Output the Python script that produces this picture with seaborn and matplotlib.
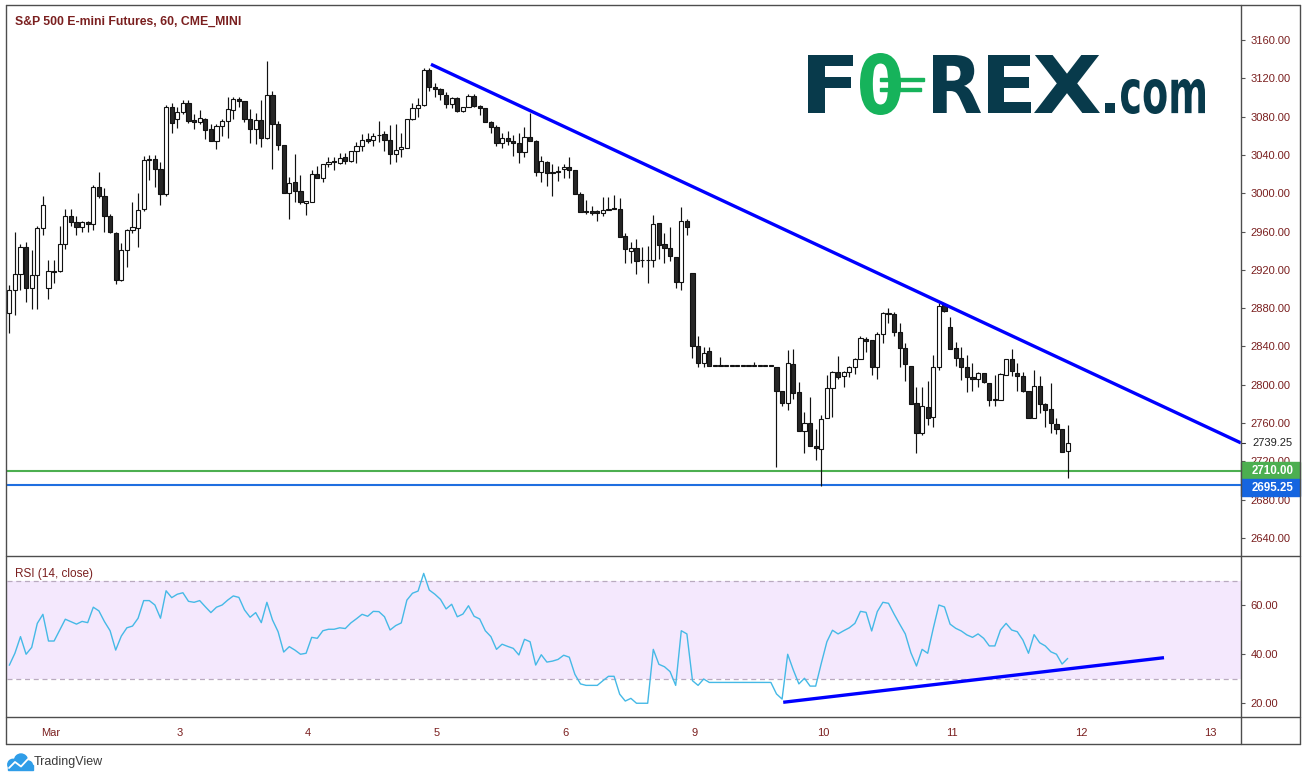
import numpy as np
import pandas as pd
import matplotlib
matplotlib.use('Agg')
import matplotlib.pyplot as plt
import matplotlib.transforms as mtransforms
import seaborn as sns
from matplotlib.patches import Rectangle, Circle, PathPatch
from matplotlib.lines import Line2D
from matplotlib.textpath import TextPath
from matplotlib.font_manager import FontProperties

# ============================
# 数据: ES 1小时K线 (Mar 1 - Mar 11)
# ============================
opens = [
    2875, 2899, 2916, 2944, 2901, 2915, 2964, 2901, 2919, 2919,
    2947, 2976, 2970, 2965, 2970, 2968, 3006, 2997, 2976, 2958,
    2909, 2941, 2962, 2964, 2984, 3035, 3036, 3025, 2999, 3090,
    3078, 3085, 3094, 3076, 3074, 3078, 3067, 3055, 3070, 3075,
    3087, 3098, 3096, 3077, 3067, 3076, 3058, 3103, 3072, 3050,
    3000, 3012, 3002, 2990, 2991, 3020, 3016, 3031, 3033.5, 3032,
    3037.5, 3034, 3044, 3049, 3056.5, 3055.5, 3060.5, 3061.5, 3056, 3040.5,
    3046, 3047.5, 3078, 3088.5, 3092, 3128.5, 3110.5, 3109, 3103, 3093,
    3099, 3086, 3090, 3101.5, 3091.5, 3088.5, 3074.5, 3069, 3052, 3057.5,
    3055, 3052, 3043.5, 3058.5, 3055, 3022.5, 3032.5, 3022, 3023, 3025,
    3027, 3024.5, 2999, 2981.5, 2981, 2981, 2979, 2982.5, 2984.5, 2984,
    2955.5, 2940, 2942.5, 2930.5, 2930, 2930, 2968.5, 2947, 2942.5, 2933,
    2907, 2971, 2916.5, 2840.5, 2822.5, 2835, 2820, 2820, 2820, 2820,
    2820, 2820, 2820, 2820, 2820, 2820, 2820, 2819, 2793.5, 2781,
    2821.5, 2792, 2752, 2760, 2736, 2733, 2765, 2796.5, 2813.5, 2809,
    2813, 2819, 2826.5, 2847.5, 2846.5, 2818.5, 2853.5, 2874.5, 2874, 2855.5,
    2838, 2820, 2780.5, 2749.5, 2777, 2766, 2819, 2883.5, 2860, 2838,
    2827.5, 2818.5, 2808, 2806, 2812, 2801.5, 2784.5, 2784.5, 2810.5, 2826.5,
    2812.5, 2809, 2793.5, 2765.5, 2799, 2779.5, 2774.5, 2759, 2753.5, 2731,
]
highs = [
    2904, 2960, 2947, 2949, 2941, 2966, 2997, 2930, 2930, 2966,
    2984, 2984, 2976, 2971, 2971, 3009, 3022, 3005, 2978, 2960,
    2948, 2963, 2991, 3000, 3039, 3040, 3040, 3033, 3092, 3094,
    3090, 3097, 3097, 3083, 3087, 3079, 3072, 3072, 3078, 3101,
    3101, 3101, 3096, 3088, 3084, 3097, 3138, 3107, 3075, 3050,
    3017, 3041, 3019, 2992, 3024, 3028, 3031, 3038, 3038, 3042,
    3042, 3044, 3053, 3062, 3062.5, 3062.5, 3075, 3065, 3071, 3072,
    3062.5, 3078, 3094.5, 3099, 3130.5, 3130.5, 3115, 3109.5, 3105.5, 3100,
    3100, 3090.5, 3104, 3104, 3092, 3088.5, 3075.5, 3071, 3063, 3065,
    3061, 3063, 3069, 3084, 3055.5, 3039, 3033.5, 3030, 3028.5, 3031,
    3037.5, 3024.5, 3001, 2993, 2987, 2983, 2996, 2996.5, 2998, 2994.5,
    2958, 2949.5, 2952, 2944, 2945, 2977.5, 2968.5, 2958, 2965, 2933,
    2986, 2973, 2916.5, 2851, 2839, 2839, 2820, 2828.5, 2820, 2820,
    2820, 2820, 2820, 2823.5, 2820, 2820, 2820, 2819, 2793.5, 2836.5,
    2837, 2803, 2771.5, 2787.5, 2754, 2768.5, 2810, 2814.5, 2830.5, 2814,
    2819.5, 2827.5, 2850.5, 2849.5, 2846.5, 2855, 2876.5, 2880, 2875.5, 2864,
    2843.5, 2820, 2797.5, 2797.5, 2803.5, 2831, 2885, 2885, 2871, 2845,
    2839, 2831, 2823, 2813.5, 2812.5, 2801.5, 2810, 2812, 2826.5, 2837,
    2823, 2813.5, 2793.5, 2815.5, 2809.5, 2780.5, 2801.5, 2765, 2753.5, 2758,
]
lows = [
    2854, 2873, 2899, 2886, 2879, 2879, 2956, 2890, 2906, 2918,
    2942, 2966, 2956, 2960, 2959, 2962, 2995, 2960, 2958, 2905,
    2908, 2923, 2958, 2944, 2981, 3014, 3007, 2988, 2997, 3063,
    3068, 3083, 3073, 3067, 3072, 3057, 3055, 3046, 3060, 3058,
    3078, 3090, 3074, 3052, 3051, 3048, 3057, 3025, 3045, 3000,
    2973, 2991, 2989, 2977, 2991, 3016, 3012, 3027, 3024, 3030,
    3030.5, 3033, 3032, 3044, 3052, 3049, 3054, 3044.5, 3031, 3033,
    3038, 3047.5, 3076, 3080, 3091, 3107, 3101, 3097, 3088.5, 3088.5,
    3085, 3085, 3090, 3090.5, 3081.5, 3074, 3063, 3049, 3047, 3050.5,
    3039, 3032, 3038, 3055, 3018.5, 3012, 3007.5, 2997.5, 3013, 3016,
    3015.5, 2999, 2980, 2978, 2977.5, 2971, 2976, 2982.5, 2983.5, 2954.5,
    2927, 2927, 2915.5, 2922.5, 2906.5, 2922.5, 2931, 2927, 2929.5, 2901,
    2899, 2956.5, 2827.5, 2819, 2819, 2820, 2820, 2820, 2820, 2820,
    2820, 2820, 2820, 2820, 2820, 2820, 2820, 2714.5, 2778, 2774,
    2785, 2752, 2728.5, 2736.5, 2721, 2694.5, 2765, 2766.5, 2806, 2797.5,
    2808, 2811, 2826.5, 2834.5, 2810, 2806, 2844, 2864, 2851, 2818.5,
    2803.5, 2779.5, 2728.5, 2747.5, 2758, 2755.5, 2815.5, 2876.5, 2837, 2819.5,
    2804.5, 2792, 2793.5, 2798, 2801.5, 2778, 2778, 2784.5, 2810.5, 2809,
    2794, 2792, 2765, 2765, 2770.5, 2756, 2750, 2748.5, 2729.5, 2702.5,
]
closes = [
    2899, 2916, 2944, 2901, 2915, 2964, 2988, 2919, 2918, 2947,
    2976, 2970, 2965, 2970, 2968, 3006, 2997, 2976, 2959, 2909,
    2941, 2962, 2965, 2983, 3035, 3035.5, 3025, 2999, 3090, 3073,
    3085, 3094, 3075, 3074, 3079, 3066, 3055, 3070, 3075, 3088,
    3098, 3096, 3077, 3067, 3076, 3058, 3103, 3072, 3050, 3000,
    3011, 3002, 2991, 2992, 3020, 3016, 3031, 3033, 3033, 3036.5,
    3034, 3044, 3049, 3055.5, 3055, 3060, 3061, 3056, 3040.5, 3045,
    3048.5, 3078, 3088.5, 3092, 3128.5, 3111, 3108.5, 3103.5, 3093, 3099,
    3086, 3090, 3101.5, 3091.5, 3088.5, 3074, 3069.5, 3052, 3057.5, 3055,
    3052, 3043.5, 3058.5, 3055, 3022.5, 3033.5, 3021, 3021, 3022, 3027,
    3024.5, 2999, 2980, 2980, 2979, 2979, 2982.5, 2984, 2984, 2954.5,
    2941.5, 2942.5, 2929.5, 2930, 2930.5, 2967.5, 2946, 2942.5, 2934, 2907,
    2971.5, 2965, 2840, 2822.5, 2833.5, 2820, 2820, 2820, 2820, 2820,
    2820, 2820, 2820, 2820, 2820, 2820, 2820, 2793, 2781, 2822.5,
    2791, 2752, 2760, 2736.5, 2734, 2764, 2796.5, 2813.5, 2808, 2813.5,
    2818.5, 2826.5, 2848.5, 2846, 2818.5, 2853.5, 2874.5, 2874, 2855.5, 2838,
    2822, 2779.5, 2749.5, 2778, 2765, 2819, 2882.5, 2877.5, 2837, 2827.5,
    2818.5, 2808, 2806, 2812, 2802.5, 2784, 2785.5, 2811, 2826.5, 2814.5,
    2809, 2793.5, 2765.5, 2799, 2779.5, 2773.5, 2760, 2753.5, 2730, 2739.25,
]
rsi_values = [
    35.4, 40.3, 47.1, 39.9, 42.7, 52.5, 56.2, 45.3, 45.3, 49.8,
    54.2, 53.2, 52.2, 53.3, 52.8, 59.1, 57.6, 53.2, 49.5, 41.6,
    47.3, 50.7, 51.4, 54.6, 61.8, 61.8, 60.0, 54.6, 65.8, 63.0,
    64.4, 65.0, 61.5, 61.1, 61.8, 59.3, 56.9, 59.1, 60.0, 62.0,
    63.7, 63.1, 58.0, 55.0, 56.9, 52.8, 61.1, 53.9, 49.1, 40.8,
    43.0, 41.6, 39.9, 40.3, 46.8, 46.4, 49.5, 50.1, 50.1, 50.7,
    50.4, 52.7, 54.4, 56.2, 55.4, 57.4, 57.3, 55.2, 49.8, 51.6,
    52.7, 62.0, 64.8, 65.7, 72.9, 66.1, 64.4, 62.3, 58.4, 60.3,
    55.2, 56.3, 59.7, 55.4, 54.3, 49.5, 47.1, 41.9, 44.0, 43.1,
    42.3, 39.6, 46.0, 45.0, 35.5, 39.7, 36.7, 37.1, 37.8, 39.5,
    38.7, 31.7, 27.8, 27.2, 27.2, 27.2, 29.1, 30.9, 30.9, 23.6,
    20.8, 21.9, 19.9, 19.9, 19.9, 41.9, 35.8, 34.8, 32.8, 27.2,
    49.5, 48.2, 29.1, 27.2, 29.8, 28.4, 28.4, 28.4, 28.4, 28.4,
    28.4, 28.4, 28.4, 28.4, 28.4, 28.4, 28.4, 23.7, 21.6, 39.9,
    33.5, 27.8, 30.1, 26.9, 26.9, 36.2, 45.0, 49.7, 48.2, 49.5,
    50.7, 52.5, 57.4, 57.0, 49.4, 57.3, 61.1, 60.7, 56.3, 52.2,
    48.2, 40.5, 35.1, 41.9, 40.3, 50.5, 60.0, 59.2, 52.2, 50.5,
    49.4, 47.8, 46.8, 48.2, 46.4, 43.3, 43.3, 49.8, 52.5, 49.8,
    49.1, 45.7, 40.3, 47.9, 44.6, 43.3, 40.9, 39.9, 35.9, 38.2,
]

day_labels = ['Mar', '3', '4', '5', '6', '9', '10', '11', '12', '13']
day_ticks = [7.4, 30.4, 53.3, 76.3, 99.4, 122.3, 145.4, 168.4, 191.4, 214.5]

price_ticks = list(range(2640, 3161, 40))
rsi_ticks = [20, 40, 60]

# 趋势线 (价格 / RSI)
trend_x = [75.3, 219.95]
trend_y = [3134.6, 2739.25]
rsi_trend_x = [138.2, 206.2]
rsi_trend_y = [20.3, 38.5]

support_green = 2710.00
support_blue = 2695.25
last_price = 2739.25

df = pd.DataFrame({'open': opens, 'high': highs, 'low': lows, 'close': closes, 'rsi': rsi_values})
df['idx'] = np.arange(len(df))
df['up'] = df['close'] >= df['open']

# ============================
# 绘图风格
# ============================
sns.set_theme(style='white')
plt.rcParams['font.family'] = ['Liberation Sans', 'DejaVu Sans']

W, H = 1307, 781
MAROON = '#7a1f1f'
FRAME = '#4d4d4d'

fig = plt.figure(figsize=(W / 100, H / 100), dpi=100)
fig.patch.set_facecolor('white')


def fx(x):
    return x / W


def fy(y):
    return 1 - y / H


# pixel coords (top-left origin)
pix = mtransforms.Affine2D().scale(1, -1).translate(0, H).scale(1 / W, 1 / H) + fig.transFigure

ax = fig.add_axes([fx(7), fy(556), 1234 / W, 550 / H])
ax_rsi = fig.add_axes([fx(7), fy(717), 1234 / W, 161 / H])

xlim = (-0.41, 219.95)

# ============================
# K线
# ============================
width = 0.74
ax.vlines(df['idx'], df['low'], df['high'], color='#111111', lw=0.85, zorder=3)
body_bottom = np.minimum(df['open'], df['close'])
body_h = np.maximum(np.abs(df['close'] - df['open']), 0.7)
colors = np.where(df['up'], 'white', '#262626')
ax.bar(df['idx'], body_h, bottom=body_bottom, width=width, color=colors,
       edgecolor='#111111', linewidth=0.8, zorder=4)

# 支撑线
ax.axhline(support_green, color='#4caf50', lw=1.5, zorder=2)
ax.axhline(support_blue, color='#1f6fe0', lw=1.5, zorder=2)

# 下降趋势线
ax.plot(trend_x, trend_y, color='#0000ff', lw=2.4, solid_capstyle='butt', zorder=5, clip_on=False)

ax.set_xlim(*xlim)
ax.set_ylim(2621.2, 3195.5)
ax.set_xticks([])
ax.yaxis.tick_right()
ax.set_yticks(price_ticks)
ax.set_yticklabels([f'{v:.2f}' for v in price_ticks])
ax.tick_params(axis='y', direction='out', length=3, width=0.8, color='#555555',
               labelcolor=MAROON, labelsize=8, pad=4)
for s in ax.spines.values():
    s.set_visible(False)

# 右侧价格标签
trans = mtransforms.blended_transform_factory(ax.transAxes, ax.transData)
box_w = 59 / 1234
box_h = 17.8
ax.add_patch(Rectangle((1.0, support_green - box_h / 2), box_w, box_h, transform=trans,
                       color='#4caf50', clip_on=False, zorder=10))
ax.add_patch(Rectangle((1.0, support_blue - 2.6 - box_h / 2), box_w, box_h, transform=trans,
                       color='#1565e0', clip_on=False, zorder=10))
ax.text(1 + 11 / 1234, support_green, f'{support_green:.2f}', transform=trans, color='white',
        fontsize=8.3, fontweight='bold', va='center', ha='left', zorder=11, clip_on=False)
ax.text(1 + 11 / 1234, support_blue - 2.6, f'{support_blue:.2f}', transform=trans, color='white',
        fontsize=8.3, fontweight='bold', va='center', ha='left', zorder=11, clip_on=False)
ax.add_patch(Rectangle((1.0, last_price - 7), box_w, 14, transform=trans,
                       color='white', clip_on=False, zorder=9))
ax.plot([1.0, 1 + 4 / 1234], [last_price, last_price], transform=trans, color='#333333',
        lw=0.8, clip_on=False, zorder=10)
ax.text(1 + 11 / 1234, last_price, f'{last_price:.2f}', transform=trans, color='#222222',
        fontsize=8, va='center', ha='left', zorder=11, clip_on=False)

# ============================
# RSI
# ============================
ax_rsi.axhspan(30, 70, color='#f4e8fd', zorder=0, lw=0)
ax_rsi.axhline(70, color='#b9aabf', lw=0.9, dashes=(4, 3), zorder=1)
ax_rsi.axhline(30, color='#b9aabf', lw=0.9, dashes=(4, 3), zorder=1)
sns.lineplot(data=df, x='idx', y='rsi', ax=ax_rsi, color='#45b9e6', lw=1.0, zorder=3)
ax_rsi.plot(rsi_trend_x, rsi_trend_y, color='#0000ff', lw=2.4, solid_capstyle='butt', zorder=4)

ax_rsi.set_xlim(*xlim)
ax_rsi.set_ylim(14.29, 80.0)
ax_rsi.set_xlabel('')
ax_rsi.set_ylabel('')
ax_rsi.yaxis.tick_right()
ax_rsi.set_yticks(rsi_ticks)
ax_rsi.set_yticklabels([f'{v:.2f}' for v in rsi_ticks])
ax_rsi.set_xticks(day_ticks)
ax_rsi.set_xticklabels(day_labels)
ax_rsi.tick_params(axis='y', direction='out', length=3, width=0.8, color='#555555',
                   labelcolor=MAROON, labelsize=8, pad=4)
ax_rsi.tick_params(axis='x', direction='out', length=3, width=0.8, color='#555555',
                   labelcolor=MAROON, labelsize=8, pad=5)
for s in ax_rsi.spines.values():
    s.set_visible(False)

# ============================
# 边框
# ============================
frame_segments = [
    ((6, 5), (1300, 5)), ((6, 744), (1300, 744)), ((6, 5), (6, 744)),
    ((1300, 5), (1300, 744)), ((1241, 5), (1241, 744)),
    ((6, 556), (1300, 556)), ((6, 717), (1300, 717)),
]
for (x0, y0), (x1, y1) in frame_segments:
    fig.add_artist(Line2D([x0, x1], [y0, y1], transform=pix, color=FRAME, lw=1.0))

# 标题
fig.text(fx(15), fy(22), 'S&P 500 E-mini Futures, 60, CME_MINI', color=MAROON,
         fontsize=8.8, fontweight='bold', va='center', ha='left')
fig.text(fx(15), fy(574), 'RSI (14, close)', color=MAROON, fontsize=8.5, va='center', ha='left')

# ============================
# FOREX.com 标志
# ============================
logo_fp = FontProperties(family='DejaVu Sans', weight='bold')


def fitted_text(s, x0, y0, x1, y1, color):
    tp = TextPath((0, 0), s, size=100, prop=logo_fp)
    ext = tp.get_extents()
    sx = (x1 - x0) / ext.width
    sy = (y1 - y0) / ext.height
    tr = (mtransforms.Affine2D().translate(-ext.x0, -ext.y0).scale(sx, -sy)
          .translate(x0, y1) + pix)
    fig.add_artist(PathPatch(tp, transform=tr, facecolor=color, edgecolor='none'))


NAVY = '#083a4b'
GREEN = '#16b35b'
fitted_text('F', 808, 55, 853, 113, NAVY)
fitted_text('0', 860, 53, 901, 115, GREEN)
fitted_text('R', 933, 55, 981, 113, NAVY)
fitted_text('E', 988, 55, 1031, 113, NAVY)
fitted_text('X', 1034, 55, 1100, 113, NAVY)
fitted_text('.', 1105, 103, 1115, 113, NAVY)
fitted_text('com', 1121, 79, 1205, 114, NAVY)
fig.add_artist(Rectangle((880, 77.5), 44, 3.6, transform=pix, color=GREEN))
fig.add_artist(Rectangle((880, 87.5), 41, 3.6, transform=pix, color=GREEN))

# ============================
# TradingView 标志
# ============================
TV_BLUE = '#2f9de8'
for cx, cy, r in [(13, 764.5, 5.2), (21, 760.5, 6.5), (28, 765.5, 4.5)]:
    fig.add_artist(Circle((cx, cy), r, transform=pix, color=TV_BLUE))
fig.add_artist(Rectangle((8, 764.5), 24.5, 5.5, transform=pix, color=TV_BLUE))
fig.add_artist(Line2D([9, 15, 21, 28], [768, 762, 766.5, 759], transform=pix,
                      color='white', lw=1.3))
fig.text(fx(34), fy(762), 'TradingView', color='#3a3a3a', fontsize=9, va='center', ha='left')

fig.savefig('out.png', dpi=100, facecolor='white')
print('saved out.png')
